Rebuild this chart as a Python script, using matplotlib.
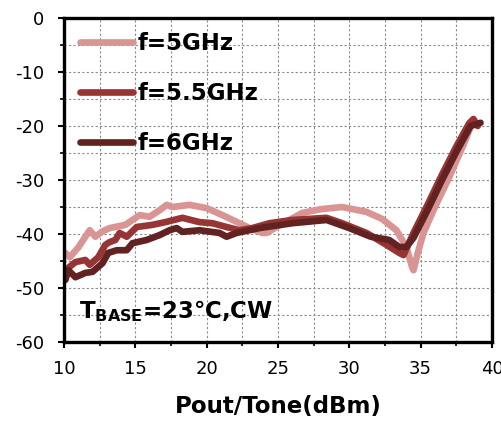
import matplotlib
matplotlib.use("Agg")
import matplotlib.pyplot as plt
from matplotlib.ticker import MultipleLocator

plt.rcParams["font.family"] = ["DejaVu Sans", "Noto Sans CJK SC"]
plt.rcParams["mathtext.fontset"] = "dejavusans"
plt.rcParams["axes.unicode_minus"] = False

# f = 5 GHz
x_5 = [10.1, 10.4, 11.0, 11.8, 12.2, 12.7, 13.2, 14.3, 15.3, 16.0, 16.7, 17.2, 17.6, 18.8,
       20.0, 21.1, 22.3, 23.0, 23.9, 24.2, 24.9, 26.7, 28.0, 29.5, 31.2, 32.3, 33.3, 34.0,
       34.4, 34.5, 34.8, 35.2, 36.0, 37.0, 38.0, 38.7]
y_5 = [-43.5, -44.3, -42.5, -39.3, -40.5, -39.5, -38.9, -38.3, -36.5, -36.8, -35.6, -34.6, -35.0, -34.6,
       -35.2, -36.5, -38.0, -38.9, -39.8, -39.8, -38.7, -36.1, -35.4, -35.0, -35.9, -37.2, -39.3, -42.4,
       -46.1, -46.7, -43.5, -39.8, -35.0, -29.5, -23.5, -18.9]

# f = 5.5 GHz
x_55 = [10.1, 10.8, 11.5, 11.8, 12.4, 12.9, 13.2, 13.6, 13.9, 14.4, 15.1, 16.2, 17.1, 18.3,
        19.5, 20.4, 21.4, 22.3, 23.2, 24.4, 26.0, 28.4, 29.5, 31.2, 32.6, 33.5, 33.8, 34.5,
        35.5, 36.5, 37.5, 38.4, 38.7, 39.0]
y_55 = [-46.7, -45.2, -44.8, -45.7, -44.3, -42.0, -41.5, -41.1, -39.8, -40.5, -38.7, -38.3, -37.8, -37.0,
        -37.8, -38.0, -38.7, -39.3, -38.9, -38.0, -37.4, -37.0, -38.0, -39.8, -42.0, -43.5, -43.9, -39.8,
        -34.5, -29.0, -23.8, -19.5, -18.7, -20.0]

# f = 6 GHz
x_6 = [10.1, 10.3, 10.8, 11.5, 12.0, 12.7, 13.1, 13.7, 14.4, 14.8, 15.8, 16.7, 17.4, 17.9,
       18.3, 19.5, 20.9, 21.4, 22.1, 23.7, 26.0, 28.4, 30.0, 31.5, 32.8, 33.5, 34.0, 34.5,
       35.5, 36.5, 37.5, 38.5, 39.2]
y_6 = [-48.5, -46.7, -48.0, -47.2, -47.0, -45.4, -43.5, -43.0, -43.0, -41.7, -41.1, -40.2, -39.3, -38.9,
       -39.6, -39.3, -39.8, -40.5, -39.8, -38.9, -38.0, -37.4, -38.9, -40.5, -41.1, -42.4, -42.4, -40.7,
       -35.5, -30.0, -24.8, -20.0, -19.4]

series = [
    (x_5, y_5, "f=5GHz", "#d99494"),
    (x_55, y_55, "f=5.5GHz", "#973535"),
    (x_6, y_6, "f=6GHz", "#622222"),
]

fig = plt.figure(figsize=(5.02, 4.21), dpi=100)
ax = fig.add_axes([0.1275, 0.1876, 0.8525, 0.7696])

for xs, ys, label, color in series:
    ax.plot(xs, ys, color=color, linewidth=4.8, label=label,
            solid_capstyle="round", solid_joinstyle="round")

ax.set_xlim(10, 40)
ax.set_ylim(-60, 0)
ax.xaxis.set_major_locator(MultipleLocator(5))
ax.xaxis.set_minor_locator(MultipleLocator(2.5))
ax.yaxis.set_major_locator(MultipleLocator(10))
ax.yaxis.set_minor_locator(MultipleLocator(5))
ax.grid(which="both", color="#8a8a8a", linestyle=(0, (2, 2)), linewidth=0.8)
ax.set_axisbelow(True)

for sp in ax.spines.values():
    sp.set_linewidth(2.4)
ax.tick_params(axis="x", which="major", pad=9)
ax.tick_params(axis="y", which="major", pad=10)
ax.tick_params(which="major", direction="out", length=4, width=1.5, labelsize=13)
ax.tick_params(which="minor", direction="out", length=3, width=1.2)

ax.set_xlabel("Pout/Tone(dBm)", fontsize=16.5, fontweight="bold", labelpad=12)

leg = ax.legend(loc="upper left", frameon=False, prop={"weight": "bold", "size": 16.5},
                handlelength=2.3, handletextpad=0.2, labelspacing=1.17,
                borderaxespad=0.3, bbox_to_anchor=(0.0, 1.005))

ax.text(0.035, 0.075, r"$\mathbf{T}_{\mathbf{BASE}}$=23℃,CW", transform=ax.transAxes,
        fontsize=16.5, fontweight="bold")

fig.savefig("out.png", dpi=100)
